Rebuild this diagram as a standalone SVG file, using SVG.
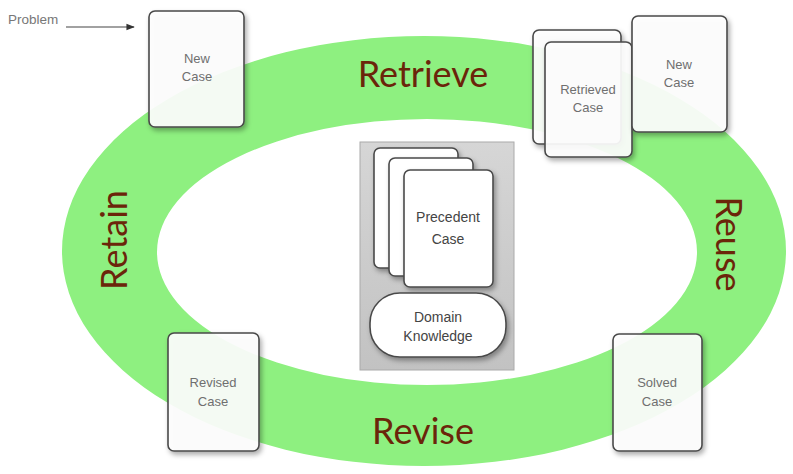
<svg xmlns="http://www.w3.org/2000/svg" width="793" height="474" viewBox="0 0 793 474">
<style>
.card{fill:#fff;fill-opacity:0.9;stroke:#4a4a4a;stroke-width:1.6;filter:url(#sh)}
.ct{font-family:"Liberation Sans",Arial,sans-serif;font-size:13px;fill:#6f6f6f;text-anchor:middle}
.big{font-family:Lato,"Open Sans",sans-serif;font-size:36px;fill:#6b250a;text-anchor:middle}
.ctr{font-family:"Liberation Sans",Arial,sans-serif;font-size:14px;fill:#444;text-anchor:middle}
</style>
<defs>
<filter id="sh" x="-20%" y="-20%" width="150%" height="150%">
<feDropShadow dx="2" dy="3" stdDeviation="2.5" flood-color="#000" flood-opacity="0.35"/>
</filter>
<linearGradient id="gbox" x1="0" y1="0" x2="0" y2="1">
<stop offset="0" stop-color="#d6d6d6"/>
<stop offset="1" stop-color="#c2c2c2"/>
</linearGradient>
<marker id="ah" viewBox="0 0 10 10" refX="9" refY="5" markerWidth="7" markerHeight="7" orient="auto">
<path d="M0,1 L10,5 L0,9 z" fill="#333"/>
</marker>
</defs>
<rect width="793" height="474" fill="#fff"/>
<g id="ring">
<path fill="#8ef080" fill-rule="evenodd" d="M62,251 a362,215 0 1,0 724,0 a362,215 0 1,0 -724,0 z M157,252 a270,133 0 1,0 540,0 a270,133 0 1,0 -540,0 z"/>
<text class="big" x="423" y="87">Retrieve</text>
<text class="big" x="423" y="444">Revise</text>
<text class="big" transform="translate(716,244) rotate(90)" x="0" y="0">Reuse</text>
<text class="big" transform="translate(127,240) rotate(-90)" x="0" y="0">Retain</text>
</g>
<g id="problem">
<text x="8" y="24" font-family="Liberation Sans,Arial,sans-serif" font-size="13.5" fill="#777">Problem</text>
</g>
<g id="connectors">
<line x1="66" y1="27" x2="134" y2="27" stroke="#444" stroke-width="1.2" marker-end="url(#ah)"/>
</g>
<g id="new-case-1">
<rect class="card" x="149" y="11" width="95" height="116" rx="6"/>
<text class="ct" x="197" y="63">New</text>
<text class="ct" x="197" y="81">Case</text>
</g>
<g id="retrieved-back">
<rect class="card" x="533" y="30" width="88" height="114" rx="6"/>
</g>
<g id="retrieved-case">
<rect class="card" x="545" y="42" width="87" height="115" rx="6"/>
<text class="ct" x="588" y="94">Retrieved</text>
<text class="ct" x="588" y="112">Case</text>
</g>
<g id="new-case-2">
<rect class="card" x="632" y="16" width="95" height="116" rx="6"/>
<text class="ct" x="679" y="69">New</text>
<text class="ct" x="679" y="87">Case</text>
</g>
<g id="case-base">
<rect x="360" y="142" width="154" height="228" fill="url(#gbox)" stroke="#aaa" stroke-width="1"/>
<rect class="card" x="374" y="148" width="84" height="120" rx="6" style="fill-opacity:1"/>
<rect class="card" x="389" y="158" width="84" height="118" rx="6" style="fill-opacity:1"/>
<rect class="card" x="404" y="170" width="89" height="117" rx="6" style="fill-opacity:1"/>
<text class="ctr" x="448" y="222">Precedent</text>
<text class="ctr" x="448" y="244">Case</text>
</g>
<g id="domain-knowledge">
<rect class="card" x="370" y="293" width="136" height="64" rx="30" style="fill-opacity:1"/>
<text class="ctr" x="438" y="322">Domain</text>
<text class="ctr" x="438" y="341">Knowledge</text>
</g>
<g id="revised-case">
<rect class="card" x="168" y="333" width="91" height="118" rx="6"/>
<text class="ct" x="213" y="387">Revised</text>
<text class="ct" x="213" y="406">Case</text>
</g>
<g id="solved-case">
<rect class="card" x="613" y="334" width="89" height="117" rx="6"/>
<text class="ct" x="657" y="387">Solved</text>
<text class="ct" x="657" y="406">Case</text>
</g>
</svg>
